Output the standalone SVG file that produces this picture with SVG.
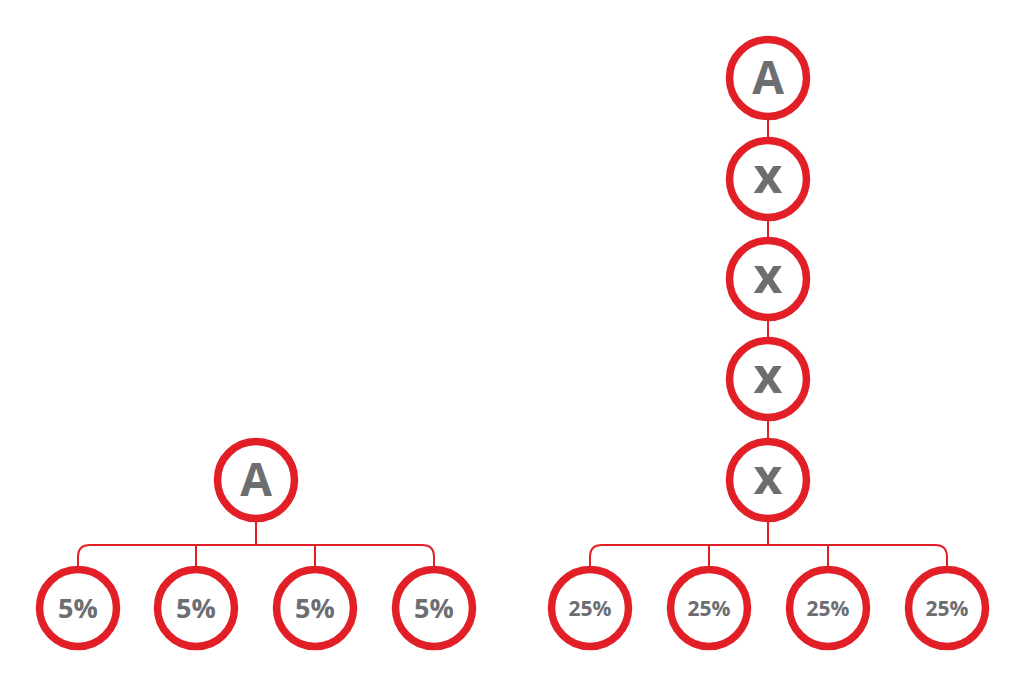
<svg xmlns="http://www.w3.org/2000/svg" width="1024" height="687" viewBox="0 0 1024 687">
<style>
.n{fill:#fff;stroke:#e21f26;stroke-width:7.5}
.c{fill:none;stroke:#e21f26;stroke-width:2}
.t{font-family:"Open Sans","Liberation Sans",sans-serif;font-weight:700;fill:#6d6e72;text-anchor:middle}
.big{font-size:46px}
.x{font-size:50px}
.p5{font-size:27px}
.p25{font-size:21px}
</style>
<rect width="1024" height="687" fill="#fff"/>
<g id="connectors">
<path class="c" d="M256 522V545M78 566V557Q78 545 90 545H422Q434 545 434 557V566M196 545V566M315 545V566"/>
<path class="c" d="M768 120V137M768 220V238M768 320V338M768 420V438M768 521V545M590 566V557Q590 545 602 545H935Q947 545 947 557V566M709 545V566M828 545V566"/>
</g>
<g id="leftA"><circle class="n" cx="256" cy="480" r="38.5"/><text class="t big" x="256" y="496">A</text></g>
<g id="l1"><circle class="n" cx="78" cy="608" r="38.5"/><text class="t p5" x="78" y="618">5%</text></g>
<g id="l2"><circle class="n" cx="196" cy="608" r="38.5"/><text class="t p5" x="196" y="618">5%</text></g>
<g id="l3"><circle class="n" cx="315" cy="608" r="38.5"/><text class="t p5" x="315" y="618">5%</text></g>
<g id="l4"><circle class="n" cx="434" cy="608" r="38.5"/><text class="t p5" x="434" y="618">5%</text></g>
<g id="rightA"><circle class="n" cx="768" cy="78" r="38.5"/><text class="t big" x="768" y="94">A</text></g>
<g id="x1"><circle class="n" cx="768" cy="179" r="38.5"/><text class="t x" x="768" y="193">x</text></g>
<g id="x2"><circle class="n" cx="768" cy="279" r="38.5"/><text class="t x" x="768" y="293">x</text></g>
<g id="x3"><circle class="n" cx="768" cy="379" r="38.5"/><text class="t x" x="768" y="393">x</text></g>
<g id="x4"><circle class="n" cx="768" cy="480" r="38.5"/><text class="t x" x="768" y="494">x</text></g>
<g id="r1"><circle class="n" cx="590" cy="608" r="38.5"/><text class="t p25" x="590" y="616">25%</text></g>
<g id="r2"><circle class="n" cx="709" cy="608" r="38.5"/><text class="t p25" x="709" y="616">25%</text></g>
<g id="r3"><circle class="n" cx="828" cy="608" r="38.5"/><text class="t p25" x="828" y="616">25%</text></g>
<g id="r4"><circle class="n" cx="947" cy="608" r="38.5"/><text class="t p25" x="947" y="616">25%</text></g>
</svg>
